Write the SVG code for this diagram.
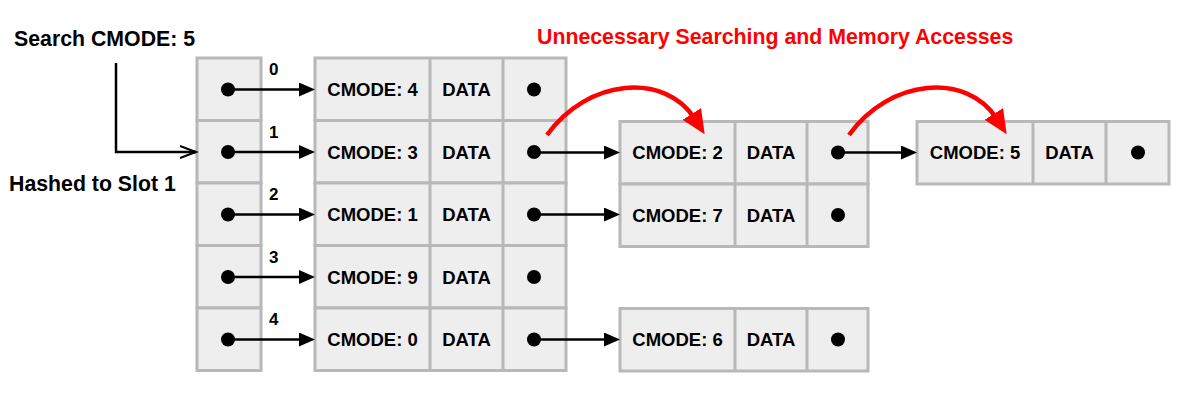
<svg xmlns="http://www.w3.org/2000/svg" width="1198" height="403" viewBox="0 0 1198 403">
<style>
.cell{fill:#eeeeee;stroke:#b8b8b8;stroke-width:3}
.div{stroke:#b8b8b8;stroke-width:3}
.t{font-family:"Liberation Sans",Arial,sans-serif;font-weight:bold;font-size:18.5px;fill:#000;text-anchor:middle}
.lbl{font-family:"Liberation Sans",Arial,sans-serif;font-weight:bold;font-size:21.3px;fill:#000}
.idx{font-family:"Liberation Sans",Arial,sans-serif;font-weight:bold;font-size:17px;fill:#000}
.dot{fill:#000}
.link{stroke:#000;stroke-width:2.5;fill:none}
.red{stroke:#ff0000;stroke-width:4.5;fill:none}
</style>
<defs>
<marker id="ah" markerUnits="userSpaceOnUse" markerWidth="18" markerHeight="16" refX="4" refY="7" orient="auto"><path d="M0,0 L16,7 L0,14 z" fill="#000"/></marker>
<marker id="open" markerUnits="userSpaceOnUse" markerWidth="20" markerHeight="16" refX="17" refY="7" orient="auto"><path d="M1,1 L17,7 L1,13" fill="none" stroke="#000" stroke-width="2"/></marker>
<marker id="rah" markerUnits="userSpaceOnUse" markerWidth="28" markerHeight="24" refX="6" refY="11" orient="auto"><path d="M0,0 L24,11 L0,22 z" fill="#ff0000"/></marker>
</defs>
<rect width="1198" height="403" fill="#ffffff"/>
<text class="lbl" x="14" y="46">Search CMODE: 5</text>
<text class="lbl" x="9" y="191">Hashed to Slot 1</text>
<text class="lbl" x="537" y="44" style="fill:#ff0000">Unnecessary Searching and Memory Accesses</text>
<g id="slots">
<rect class="cell" x="197" y="58" width="64" height="62.5"/>
<rect class="cell" x="197" y="120.5" width="64" height="62.5"/>
<rect class="cell" x="197" y="183" width="64" height="62.5"/>
<rect class="cell" x="197" y="245.5" width="64" height="62.5"/>
<rect class="cell" x="197" y="308" width="64" height="62.5"/>
<circle class="dot" cx="228" cy="89.5" r="7"/>
<circle class="dot" cx="228" cy="152" r="7"/>
<circle class="dot" cx="228" cy="214.5" r="7"/>
<circle class="dot" cx="228" cy="277" r="7"/>
<circle class="dot" cx="228" cy="339.5" r="7"/>
<text class="idx" x="269" y="75">0</text>
<text class="idx" x="269" y="137.5">1</text>
<text class="idx" x="269" y="200">2</text>
<text class="idx" x="269" y="262.5">3</text>
<text class="idx" x="269" y="325">4</text>
</g>
<g id="node-cmode4">
<rect class="cell" x="315" y="58" width="251" height="62.5"/>
<line class="div" x1="430" y1="58" x2="430" y2="120.5"/><line class="div" x1="503" y1="58" x2="503" y2="120.5"/>
<text class="t" x="372.5" y="96">CMODE: 4</text><text class="t" x="466.5" y="96">DATA</text>
<circle class="dot" cx="534" cy="89.5" r="7"/>
</g>
<g id="node-cmode3">
<rect class="cell" x="315" y="120.5" width="251" height="62.5"/>
<line class="div" x1="430" y1="120.5" x2="430" y2="183"/><line class="div" x1="503" y1="120.5" x2="503" y2="183"/>
<text class="t" x="372.5" y="158.5">CMODE: 3</text><text class="t" x="466.5" y="158.5">DATA</text>
<circle class="dot" cx="534" cy="152" r="7"/>
</g>
<g id="node-cmode1">
<rect class="cell" x="315" y="183" width="251" height="62.5"/>
<line class="div" x1="430" y1="183" x2="430" y2="245.5"/><line class="div" x1="503" y1="183" x2="503" y2="245.5"/>
<text class="t" x="372.5" y="221">CMODE: 1</text><text class="t" x="466.5" y="221">DATA</text>
<circle class="dot" cx="534" cy="214.5" r="7"/>
</g>
<g id="node-cmode9">
<rect class="cell" x="315" y="245.5" width="251" height="62.5"/>
<line class="div" x1="430" y1="245.5" x2="430" y2="308"/><line class="div" x1="503" y1="245.5" x2="503" y2="308"/>
<text class="t" x="372.5" y="283.5">CMODE: 9</text><text class="t" x="466.5" y="283.5">DATA</text>
<circle class="dot" cx="534" cy="277" r="7"/>
</g>
<g id="node-cmode0">
<rect class="cell" x="315" y="308" width="251" height="62.5"/>
<line class="div" x1="430" y1="308" x2="430" y2="370.5"/><line class="div" x1="503" y1="308" x2="503" y2="370.5"/>
<text class="t" x="372.5" y="346">CMODE: 0</text><text class="t" x="466.5" y="346">DATA</text>
<circle class="dot" cx="534" cy="339.5" r="7"/>
</g>
<g id="node-cmode2">
<rect class="cell" x="620" y="121.5" width="248" height="62.5"/>
<line class="div" x1="735" y1="121.5" x2="735" y2="184"/><line class="div" x1="807" y1="121.5" x2="807" y2="184"/>
<text class="t" x="677.5" y="159">CMODE: 2</text><text class="t" x="771" y="159">DATA</text>
<circle class="dot" cx="838" cy="152.5" r="7"/>
</g>
<g id="node-cmode7">
<rect class="cell" x="620" y="184" width="248" height="62.5"/>
<line class="div" x1="735" y1="184" x2="735" y2="246.5"/><line class="div" x1="807" y1="184" x2="807" y2="246.5"/>
<text class="t" x="677.5" y="221.5">CMODE: 7</text><text class="t" x="771" y="221.5">DATA</text>
<circle class="dot" cx="838" cy="215" r="7"/>
</g>
<g id="node-cmode6">
<rect class="cell" x="620" y="308.5" width="248" height="62.5"/>
<line class="div" x1="735" y1="308.5" x2="735" y2="371"/><line class="div" x1="807" y1="308.5" x2="807" y2="371"/>
<text class="t" x="677.5" y="346">CMODE: 6</text><text class="t" x="771" y="346">DATA</text>
<circle class="dot" cx="838" cy="339.5" r="7"/>
</g>
<g id="node-cmode5">
<rect class="cell" x="917" y="121.5" width="252" height="62.5"/>
<line class="div" x1="1033" y1="121.5" x2="1033" y2="184"/><line class="div" x1="1106" y1="121.5" x2="1106" y2="184"/>
<text class="t" x="975" y="159">CMODE: 5</text><text class="t" x="1069.5" y="159">DATA</text>
<circle class="dot" cx="1138" cy="152.5" r="7"/>
</g>
<g id="connectors">
<path class="link" d="M116,63 L116,152 L196,152" marker-end="url(#open)" stroke-width="2"/>
<line class="link" x1="228" y1="89.5" x2="303" y2="89.5" marker-end="url(#ah)"/>
<line class="link" x1="228" y1="152" x2="303" y2="152" marker-end="url(#ah)"/>
<line class="link" x1="228" y1="214.5" x2="303" y2="214.5" marker-end="url(#ah)"/>
<line class="link" x1="228" y1="277" x2="303" y2="277" marker-end="url(#ah)"/>
<line class="link" x1="228" y1="339.5" x2="303" y2="339.5" marker-end="url(#ah)"/>
<line class="link" x1="534" y1="152.5" x2="608" y2="152.5" marker-end="url(#ah)"/>
<line class="link" x1="534" y1="214.5" x2="608" y2="214.5" marker-end="url(#ah)"/>
<line class="link" x1="534" y1="339.5" x2="608" y2="339.5" marker-end="url(#ah)"/>
<line class="link" x1="838" y1="152.5" x2="905" y2="152.5" marker-end="url(#ah)"/>
<path class="red" d="M547,135 C588,78 665,72 695,119" marker-end="url(#rah)"/>
<path class="red" d="M849,135 C890,78 967,72 997,119" marker-end="url(#rah)"/>
</g>
</svg>
